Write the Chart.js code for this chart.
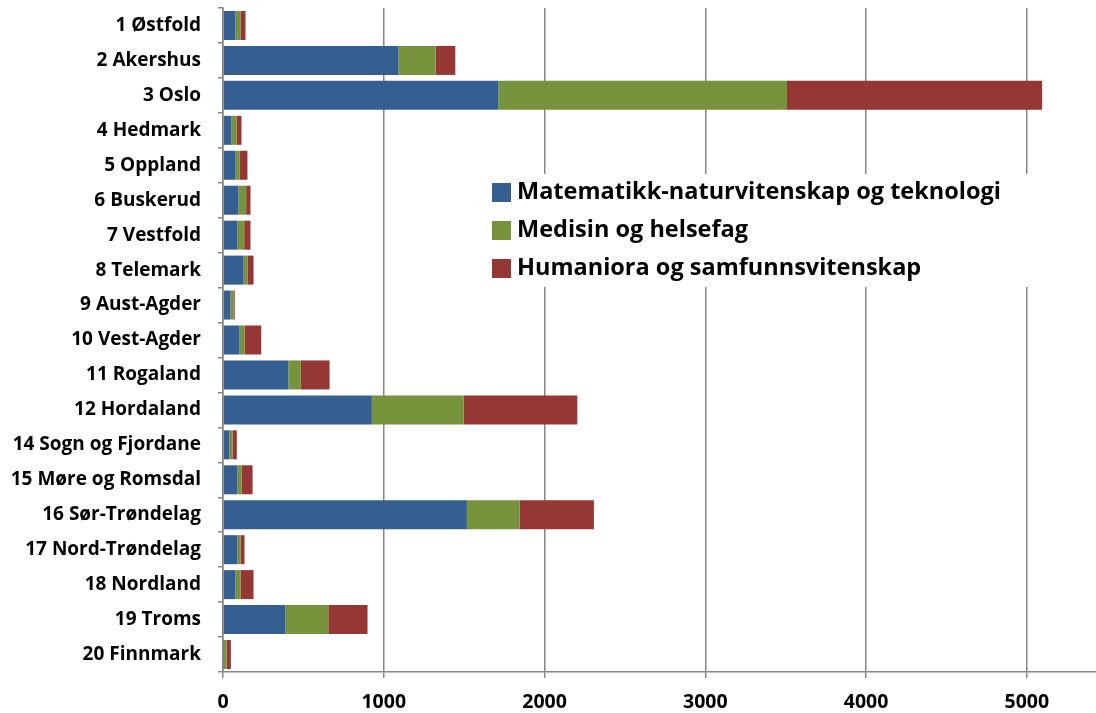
<!DOCTYPE html>
<html>
<head>
<meta charset="utf-8">
<script src="https://cdn.jsdelivr.net/npm/chart.js@4.4.0/dist/chart.umd.min.js"></script>
<style>
    body { margin: 0; background: #fff; }
    #wrap { width: 1096px; height: 713px; position: relative; }
</style>
</head>
<body>
<div id="wrap"><canvas id="fylkeChart"></canvas></div>
<script>
const categories = [
    "1 Østfold", "2 Akershus", "3 Oslo", "4 Hedmark", "5 Oppland", "6 Buskerud",
    "7 Vestfold", "8 Telemark", "9 Aust-Agder", "10 Vest-Agder", "11 Rogaland",
    "12 Hordaland", "14 Sogn og Fjordane", "15 Møre og Romsdal", "16 Sør-Trøndelag",
    "17 Nord-Trøndelag", "18 Nordland", "19 Troms", "20 Finnmark"
];
const seriesNames = [
    "Matematikk-naturvitenskap og teknologi",
    "Medisin og helsefag",
    "Humaniora og samfunnsvitenskap"
];
const matNat =  [78, 1092, 1714, 53, 78, 96, 90, 128, 47, 103, 406, 926, 40, 90, 1517, 90, 78, 389, 3];
const medisin = [31, 230, 1794, 31, 25, 48, 42, 24, 18, 31, 78, 571, 19, 25, 328, 19, 31, 266, 19];
const human =   [31, 123, 1587, 31, 49, 27, 39, 38, 8, 104, 179, 707, 27, 69, 462, 25, 81, 244, 27];
const xTicks = [0, 1000, 2000, 3000, 4000, 5000];

const colors = ["#365F91", "#77933C", "#953735"];
const gray = "#868686";
const font = "'Open Sans', 'Liberation Sans', sans-serif";

// legend drawn on a white box over the plot, like the original
const boxLegend = {
    id: "boxLegend",
    afterDatasetsDraw(chart) {
        const c = chart.ctx;
        c.save();
        c.fillStyle = "#fff";
        c.fillRect(484, 174, 560, 113);
        c.font = "bold 23.5px " + font;
        c.textBaseline = "middle";
        chart.data.datasets.forEach((ds, i) => {
            const y = 192 + i * 38;
            c.fillStyle = ds.backgroundColor;
            c.fillRect(492, y - 9, 19, 19);
            c.fillStyle = "#000";
            c.fillText(ds.label, 517, y);
        });
        c.restore();
    }
};

const datasets = [matNat, medisin, human].map((d, i) => ({
    label: seriesNames[i],
    data: d,
    backgroundColor: colors[i],
    borderWidth: 0,
    barPercentage: 0.83,
    categoryPercentage: 1
}));

new Chart(document.getElementById("fylkeChart"), {
    type: "bar",
    data: { labels: categories, datasets: datasets },
    options: {
        indexAxis: "y",
        responsive: true,
        maintainAspectRatio: false,
        animation: false,
        layout: { padding: { top: 8, right: 0, left: 0, bottom: 0 } },
        plugins: { legend: { display: false }, tooltip: { enabled: false } },
        scales: {
            x: {
                stacked: true,
                min: 0,
                max: 5430,
                afterBuildTicks: s => { s.ticks = xTicks.map(v => ({ value: v })); },
                afterFit: s => { s.height = 41; },
                grid: { color: gray, lineWidth: 1.5, tickLength: 6, drawOnChartArea: true },
                border: { color: gray, width: 1.5 },
                ticks: {
                    color: "#000", padding: 13,
                    font: { family: font, size: 19.5, weight: "bold" },
                    callback: v => String(v)
                }
            },
            y: {
                stacked: true,
                afterFit: s => { s.width = 223; s.paddingTop = 0; s.paddingBottom = 0; },
                grid: { offset: true, drawOnChartArea: false, color: gray, lineWidth: 1.5, tickLength: 5 },
                border: { color: gray, width: 1.5 },
                ticks: { color: "#000", padding: 17, autoSkip: false, font: { family: font, size: 19, weight: "bold" } }
            }
        }
    },
    plugins: [boxLegend]
});
</script>
</body>
</html>
